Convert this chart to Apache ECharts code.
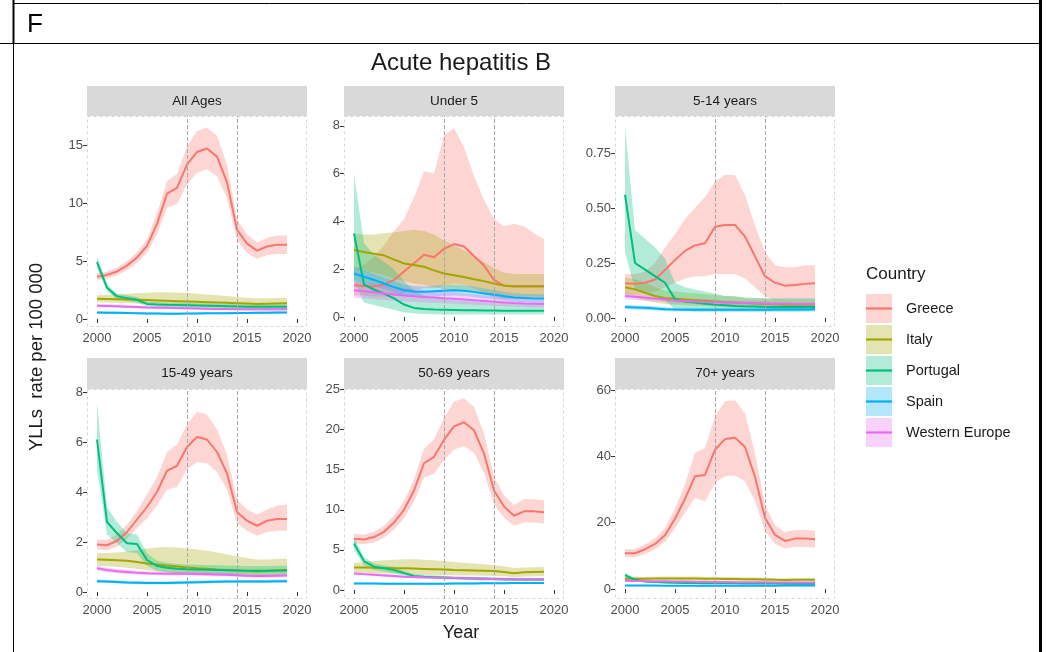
<!DOCTYPE html>
<html>
<head>
<meta charset="utf-8">
<script src="https://cdn.jsdelivr.net/npm/echarts@6/dist/echarts.min.js"></script>
<style>
html, body { margin: 0; padding: 0; background: #fff; }
#chart { width: 1046px; height: 652px; }
</style>
</head>
<body>
<div id="chart"></div>
<script>
var years = [2000,2001,2002,2003,2004,2005,2006,2007,2008,2009,2010,2011,2012,2013,2014,2015,2016,2017,2018,2019];
var countries = ['Greece', 'Italy', 'Portugal', 'Spain', 'Western Europe'];
var panelTitles = ['All Ages', 'Under 5', '5-14 years', '15-49 years', '50-69 years', '70+ years'];
var xTicks = [2000, 2005, 2010, 2015, 2020];
var yTicks = [[0,5,10,15], [0,2,4,6,8], [0,0.25,0.5,0.75], [0,2,4,6,8], [0,5,10,15,20,25], [0,20,40,60]];
var yMin = [-0.69, -0.42, -0.041, -0.28, -1.12, -3.0];
var yMax = [17.5, 8.41, 0.918, 8.12, 25.05, 60.3];
var markYears = [2009, 2014];

// All Ages
var aaGreece   = [3.65,3.8,4.1,4.6,5.3,6.3,8.2,10.8,11.3,13.3,14.4,14.7,14.0,11.8,7.7,6.5,5.9,6.25,6.4,6.4];
var aaGreeceLo = [3.35,3.5,3.75,4.2,4.85,5.7,7.3,9.6,9.9,11.6,12.6,12.9,12.3,10.4,6.8,5.7,5.2,5.5,5.6,5.6];
var aaGreeceHi = [3.95,4.1,4.45,5.0,5.75,6.9,9.1,11.9,12.5,14.9,16.2,16.5,15.8,13.3,8.6,7.3,6.6,7.0,7.2,7.2];
var aaItaly    = [1.75,1.73,1.71,1.69,1.66,1.63,1.6,1.57,1.54,1.51,1.48,1.45,1.42,1.39,1.36,1.33,1.3,1.32,1.34,1.35];
var aaItalyLo  = [1.45,1.43,1.4,1.37,1.33,1.29,1.25,1.22,1.19,1.16,1.13,1.1,1.07,1.05,1.03,1.01,0.99,1.0,1.02,1.03];
var aaItalyHi  = [2.05,2.08,2.12,2.17,2.22,2.27,2.3,2.3,2.28,2.24,2.18,2.12,2.05,1.98,1.9,1.84,1.78,1.78,1.8,1.8];
var aaPortugal   = [4.9,2.7,1.95,1.8,1.65,1.3,1.25,1.22,1.2,1.18,1.16,1.14,1.12,1.1,1.08,1.06,1.05,1.05,1.06,1.06];
var aaPortugalLo = [4.4,2.4,1.7,1.55,1.4,1.1,1.05,1.02,1.0,0.98,0.96,0.94,0.92,0.9,0.88,0.87,0.86,0.86,0.87,0.87];
var aaPortugalHi = [5.4,3.0,2.2,2.05,1.9,1.5,1.45,1.42,1.4,1.38,1.36,1.34,1.32,1.3,1.28,1.26,1.24,1.24,1.25,1.25];
var aaSpain   = [0.55,0.54,0.53,0.52,0.5,0.48,0.47,0.46,0.46,0.47,0.48,0.49,0.5,0.5,0.51,0.52,0.53,0.54,0.55,0.56];
var aaSpainLo = [0.45,0.44,0.43,0.42,0.4,0.39,0.38,0.37,0.37,0.38,0.39,0.4,0.4,0.41,0.41,0.42,0.43,0.44,0.44,0.45];
var aaSpainHi = [0.66,0.65,0.64,0.63,0.61,0.58,0.57,0.56,0.56,0.57,0.58,0.59,0.6,0.6,0.62,0.63,0.64,0.65,0.66,0.67];
var aaWEurope   = [1.15,1.12,1.09,1.06,1.03,1.0,0.98,0.96,0.94,0.92,0.9,0.88,0.87,0.86,0.85,0.84,0.83,0.83,0.83,0.84];
var aaWEuropeLo = [1.02,0.99,0.96,0.94,0.91,0.89,0.87,0.85,0.83,0.81,0.79,0.78,0.77,0.76,0.75,0.74,0.73,0.73,0.73,0.74];
var aaWEuropeHi = [1.3,1.27,1.24,1.2,1.17,1.13,1.11,1.09,1.07,1.05,1.03,1.01,0.99,0.98,0.97,0.96,0.95,0.95,0.95,0.96];

// Under 5
var u5Greece   = [1.33,1.3,1.28,1.35,1.55,1.9,2.25,2.6,2.5,2.85,3.05,2.95,2.55,2.15,1.55,1.3,1.3,1.3,1.3,1.3];
var u5GreeceLo = [0.9,0.9,0.85,0.85,0.9,1.0,1.1,1.2,1.2,1.3,1.4,1.35,1.2,1.0,0.8,0.75,0.75,0.75,0.75,0.75];
var u5GreeceHi = [2.0,2.2,2.5,3.0,3.6,4.1,5.0,6.1,6.0,7.6,7.9,7.1,5.9,4.9,4.1,3.8,3.9,3.8,3.5,3.25];
var u5Italy    = [2.8,2.72,2.65,2.58,2.4,2.24,2.17,2.1,1.95,1.82,1.75,1.67,1.58,1.5,1.4,1.32,1.27,1.27,1.27,1.27];
var u5ItalyLo  = [2.0,1.95,1.85,1.75,1.6,1.5,1.4,1.35,1.25,1.15,1.1,1.05,1.0,0.95,0.9,0.88,0.85,0.85,0.85,0.85];
var u5ItalyHi  = [3.5,3.45,3.45,3.5,3.55,3.6,3.65,3.6,3.45,3.2,3.0,2.8,2.55,2.3,2.05,1.85,1.8,1.8,1.8,1.8];
var u5Portugal   = [3.5,1.35,1.15,0.98,0.78,0.52,0.38,0.33,0.31,0.3,0.29,0.28,0.28,0.27,0.27,0.26,0.26,0.26,0.26,0.26];
var u5PortugalLo = [1.5,0.6,0.5,0.4,0.3,0.2,0.15,0.12,0.11,0.1,0.1,0.1,0.1,0.1,0.1,0.1,0.1,0.1,0.1,0.1];
var u5PortugalHi = [6.0,3.1,2.6,2.3,2.0,1.5,1.1,0.9,0.8,0.75,0.7,0.68,0.65,0.62,0.6,0.58,0.56,0.55,0.55,0.55];
var u5Spain   = [1.82,1.68,1.55,1.4,1.25,1.12,1.07,1.05,1.08,1.1,1.12,1.1,1.05,0.98,0.93,0.87,0.81,0.79,0.77,0.77];
var u5SpainLo = [1.55,1.42,1.3,1.16,1.02,0.9,0.85,0.83,0.86,0.88,0.9,0.88,0.84,0.78,0.74,0.69,0.64,0.62,0.6,0.6];
var u5SpainHi = [2.1,1.95,1.8,1.65,1.5,1.35,1.3,1.28,1.31,1.33,1.35,1.33,1.27,1.19,1.13,1.06,0.99,0.97,0.95,0.95];
var u5WEurope   = [1.12,1.08,1.03,0.98,0.94,0.9,0.87,0.84,0.81,0.78,0.76,0.73,0.7,0.67,0.64,0.61,0.58,0.56,0.55,0.54];
var u5WEuropeLo = [0.8,0.77,0.74,0.71,0.68,0.65,0.63,0.61,0.59,0.57,0.55,0.53,0.51,0.49,0.47,0.45,0.43,0.41,0.4,0.4];
var u5WEuropeHi = [1.5,1.45,1.4,1.33,1.27,1.21,1.17,1.13,1.09,1.05,1.02,0.98,0.94,0.9,0.86,0.82,0.78,0.75,0.73,0.72];

// 5-14 years
var y514Greece   = [0.158,0.155,0.16,0.175,0.218,0.264,0.305,0.33,0.34,0.415,0.423,0.423,0.37,0.28,0.19,0.16,0.147,0.15,0.155,0.158];
var y514GreeceLo = [0.11,0.11,0.11,0.12,0.14,0.16,0.18,0.19,0.19,0.2,0.2,0.2,0.18,0.14,0.1,0.08,0.08,0.08,0.08,0.08];
var y514GreeceHi = [0.2,0.2,0.21,0.25,0.32,0.38,0.45,0.5,0.55,0.62,0.65,0.65,0.56,0.42,0.3,0.24,0.23,0.23,0.24,0.24];
var y514Italy    = [0.14,0.13,0.115,0.1,0.09,0.087,0.084,0.081,0.078,0.075,0.072,0.07,0.068,0.066,0.064,0.062,0.06,0.06,0.06,0.06];
var y514ItalyLo  = [0.1,0.092,0.08,0.07,0.063,0.06,0.058,0.056,0.054,0.052,0.05,0.048,0.047,0.046,0.044,0.043,0.042,0.042,0.042,0.042];
var y514ItalyHi  = [0.185,0.175,0.16,0.14,0.125,0.12,0.116,0.112,0.108,0.104,0.1,0.097,0.094,0.091,0.088,0.085,0.083,0.083,0.083,0.083];
var y514Portugal   = [0.56,0.25,0.22,0.19,0.16,0.085,0.075,0.07,0.065,0.06,0.058,0.055,0.053,0.052,0.05,0.05,0.05,0.05,0.05,0.05];
var y514PortugalLo = [0.3,0.13,0.12,0.1,0.08,0.04,0.035,0.03,0.03,0.03,0.03,0.03,0.03,0.03,0.03,0.03,0.03,0.03,0.03,0.03];
var y514PortugalHi = [0.87,0.4,0.36,0.32,0.27,0.16,0.14,0.13,0.12,0.11,0.1,0.1,0.09,0.09,0.09,0.09,0.09,0.09,0.09,0.09];
var y514Spain   = [0.05,0.048,0.046,0.043,0.04,0.038,0.037,0.037,0.037,0.037,0.037,0.037,0.037,0.037,0.037,0.038,0.038,0.038,0.039,0.04];
var y514SpainLo = [0.04,0.038,0.036,0.034,0.031,0.03,0.029,0.029,0.029,0.029,0.029,0.029,0.029,0.029,0.029,0.03,0.03,0.03,0.031,0.032];
var y514SpainHi = [0.06,0.058,0.056,0.053,0.05,0.047,0.046,0.046,0.046,0.046,0.046,0.046,0.046,0.046,0.046,0.047,0.047,0.047,0.048,0.049];
var y514WEurope   = [0.1,0.096,0.092,0.088,0.084,0.08,0.077,0.075,0.073,0.071,0.07,0.069,0.068,0.067,0.066,0.065,0.065,0.064,0.064,0.064];
var y514WEuropeLo = [0.085,0.082,0.078,0.075,0.071,0.068,0.066,0.064,0.062,0.06,0.059,0.058,0.058,0.057,0.056,0.055,0.055,0.054,0.054,0.054];
var y514WEuropeHi = [0.116,0.111,0.107,0.102,0.097,0.093,0.089,0.087,0.085,0.083,0.081,0.08,0.079,0.078,0.077,0.076,0.075,0.075,0.075,0.075];

// 15-49 years
var y1549Greece   = [1.9,1.87,2.05,2.4,2.9,3.4,4.0,4.85,5.05,5.8,6.2,6.1,5.6,4.75,3.2,2.85,2.65,2.85,2.92,2.92];
var y1549GreeceLo = [1.7,1.67,1.82,2.12,2.55,2.95,3.45,4.1,4.2,4.9,5.2,5.15,4.8,4.1,2.75,2.45,2.25,2.4,2.45,2.45];
var y1549GreeceHi = [2.1,2.08,2.3,2.7,3.25,3.9,4.6,5.6,5.9,6.7,7.2,7.1,6.5,5.5,3.7,3.3,3.1,3.3,3.45,3.5];
var y1549Italy    = [1.3,1.29,1.27,1.25,1.2,1.14,1.1,1.06,1.02,0.98,0.95,0.93,0.9,0.88,0.86,0.84,0.82,0.84,0.86,0.88];
var y1549ItalyLo  = [1.05,1.03,1.0,0.97,0.92,0.87,0.83,0.79,0.76,0.73,0.71,0.69,0.67,0.65,0.64,0.63,0.62,0.63,0.65,0.66];
var y1549ItalyHi  = [1.55,1.56,1.58,1.62,1.68,1.74,1.78,1.8,1.78,1.74,1.7,1.65,1.58,1.5,1.42,1.36,1.3,1.3,1.32,1.34];
var y1549Portugal   = [6.1,2.8,2.35,1.95,1.92,1.28,1.04,0.97,0.93,0.91,0.9,0.89,0.88,0.87,0.86,0.85,0.85,0.85,0.86,0.86];
var y1549PortugalLo = [4.9,2.3,1.95,1.6,1.55,1.05,0.85,0.79,0.76,0.74,0.73,0.72,0.71,0.7,0.7,0.69,0.69,0.69,0.7,0.7];
var y1549PortugalHi = [7.6,3.4,2.8,2.35,2.3,1.55,1.25,1.17,1.12,1.1,1.09,1.08,1.07,1.06,1.05,1.04,1.04,1.04,1.05,1.05];
var y1549Spain   = [0.43,0.42,0.4,0.38,0.37,0.36,0.36,0.36,0.37,0.38,0.39,0.4,0.41,0.42,0.42,0.42,0.42,0.42,0.43,0.43];
var y1549SpainLo = [0.37,0.36,0.34,0.32,0.31,0.3,0.3,0.3,0.31,0.32,0.33,0.34,0.35,0.36,0.36,0.36,0.36,0.36,0.37,0.37];
var y1549SpainHi = [0.5,0.49,0.47,0.45,0.44,0.43,0.43,0.43,0.44,0.45,0.46,0.47,0.48,0.49,0.49,0.49,0.49,0.49,0.5,0.5];
var y1549WEurope   = [0.95,0.88,0.83,0.8,0.77,0.75,0.74,0.73,0.73,0.73,0.72,0.71,0.7,0.69,0.67,0.65,0.64,0.64,0.65,0.66];
var y1549WEuropeLo = [0.86,0.8,0.75,0.72,0.7,0.68,0.67,0.66,0.66,0.66,0.65,0.64,0.63,0.62,0.6,0.58,0.57,0.57,0.58,0.59];
var y1549WEuropeHi = [1.05,0.97,0.92,0.89,0.85,0.83,0.82,0.81,0.81,0.81,0.8,0.79,0.78,0.77,0.75,0.73,0.72,0.72,0.73,0.74];

// 50-69 years
var y5069Greece   = [6.4,6.3,6.6,7.25,8.4,10.0,12.4,15.8,16.6,18.7,20.4,20.9,19.9,17.0,12.4,10.4,9.25,9.8,9.8,9.7];
var y5069GreeceLo = [5.8,5.7,5.9,6.5,7.5,8.9,11.0,14.0,14.5,16.2,17.5,17.9,17.1,14.6,10.7,9.0,8.0,8.4,8.4,8.3];
var y5069GreeceHi = [7.0,6.9,7.3,8.0,9.3,11.1,13.8,17.6,18.8,21.4,23.5,23.9,22.8,19.5,14.1,11.8,10.6,11.3,11.3,11.2];
var y5069Italy    = [2.8,2.79,2.77,2.75,2.72,2.7,2.67,2.63,2.59,2.55,2.5,2.47,2.44,2.41,2.37,2.25,2.1,2.2,2.25,2.28];
var y5069ItalyLo  = [2.2,2.15,2.1,2.05,2.0,1.95,1.92,1.9,1.88,1.86,1.84,1.82,1.8,1.78,1.76,1.7,1.6,1.66,1.7,1.72];
var y5069ItalyHi  = [3.4,3.5,3.6,3.7,3.78,3.82,3.82,3.78,3.7,3.6,3.5,3.4,3.3,3.2,3.1,2.95,2.75,2.8,2.85,2.88];
var y5069Portugal   = [5.8,3.6,2.9,2.7,2.5,2.1,1.75,1.65,1.6,1.55,1.5,1.47,1.44,1.41,1.38,1.35,1.33,1.32,1.32,1.32];
var y5069PortugalLo = [5.0,3.1,2.5,2.3,2.1,1.8,1.5,1.4,1.36,1.32,1.28,1.25,1.22,1.2,1.17,1.15,1.13,1.12,1.12,1.12];
var y5069PortugalHi = [6.6,4.1,3.3,3.1,2.9,2.4,2.0,1.9,1.84,1.78,1.72,1.69,1.66,1.62,1.59,1.55,1.53,1.52,1.52,1.52];
var y5069Spain   = [0.82,0.81,0.8,0.79,0.78,0.77,0.77,0.77,0.78,0.79,0.8,0.81,0.82,0.83,0.84,0.85,0.86,0.87,0.88,0.88];
var y5069SpainLo = [0.7,0.69,0.68,0.67,0.66,0.65,0.65,0.65,0.66,0.67,0.68,0.69,0.7,0.71,0.72,0.73,0.74,0.75,0.76,0.76];
var y5069SpainHi = [0.95,0.94,0.93,0.92,0.91,0.9,0.9,0.9,0.91,0.92,0.93,0.94,0.95,0.96,0.97,0.98,0.99,1.0,1.01,1.01];
var y5069WEurope   = [2.07,1.98,1.9,1.82,1.74,1.66,1.62,1.58,1.55,1.52,1.5,1.47,1.44,1.41,1.38,1.35,1.32,1.3,1.3,1.3];
var y5069WEuropeLo = [1.9,1.82,1.75,1.67,1.6,1.52,1.48,1.45,1.42,1.39,1.37,1.34,1.31,1.29,1.26,1.23,1.2,1.18,1.18,1.18];
var y5069WEuropeHi = [2.25,2.15,2.06,1.98,1.89,1.8,1.76,1.72,1.69,1.66,1.63,1.6,1.57,1.54,1.5,1.47,1.44,1.42,1.42,1.42];

// 70+ years
var y70Greece   = [10.8,10.8,12.0,13.6,16.2,21.2,27.2,34.0,34.4,42.0,45.2,45.6,42.8,33.8,21.5,16.3,14.5,15.2,15.2,15.0];
var y70GreeceLo = [9.6,9.6,10.6,12.0,14.2,18.3,23.0,27.5,26.5,32.0,34.0,34.2,32.5,26.5,17.6,13.6,12.2,12.7,12.7,12.5];
var y70GreeceHi = [12.0,12.1,13.4,15.3,18.3,24.3,31.7,41.0,42.5,52.0,56.6,56.9,53.0,41.0,25.5,19.2,17.1,17.8,17.8,17.6];
var y70Italy    = [3.1,3.12,3.14,3.15,3.16,3.17,3.16,3.15,3.12,3.09,3.06,3.02,2.98,2.94,2.9,2.82,2.75,2.78,2.8,2.82];
var y70ItalyLo  = [2.6,2.6,2.61,2.62,2.62,2.62,2.61,2.6,2.58,2.56,2.54,2.51,2.48,2.45,2.42,2.36,2.3,2.32,2.34,2.36];
var y70ItalyHi  = [3.65,3.68,3.71,3.73,3.75,3.77,3.76,3.75,3.71,3.67,3.63,3.58,3.53,3.48,3.43,3.33,3.25,3.28,3.31,3.33];
var y70Portugal   = [4.2,2.8,2.3,2.1,2.0,1.9,1.85,1.8,1.78,1.76,1.74,1.72,1.7,1.68,1.66,1.64,1.62,1.6,1.6,1.6];
var y70PortugalLo = [3.5,2.4,2.0,1.8,1.72,1.64,1.6,1.56,1.54,1.52,1.5,1.48,1.47,1.45,1.43,1.41,1.4,1.38,1.38,1.38];
var y70PortugalHi = [5.0,3.2,2.65,2.42,2.3,2.18,2.12,2.06,2.04,2.02,2.0,1.98,1.96,1.93,1.91,1.89,1.86,1.84,1.84,1.84];
var y70Spain   = [1.1,1.08,1.06,1.04,1.02,1.0,0.99,0.98,0.98,0.98,0.98,0.99,1.0,1.01,1.02,1.03,1.04,1.05,1.06,1.07];
var y70SpainLo = [0.9,0.88,0.87,0.85,0.84,0.82,0.81,0.8,0.8,0.8,0.8,0.81,0.82,0.83,0.84,0.85,0.86,0.86,0.87,0.88];
var y70SpainHi = [1.3,1.28,1.26,1.24,1.21,1.19,1.18,1.17,1.17,1.17,1.17,1.18,1.19,1.2,1.21,1.22,1.23,1.25,1.26,1.27];
var y70WEurope   = [2.5,2.45,2.4,2.36,2.32,2.28,2.24,2.2,2.17,2.14,2.11,2.08,2.06,2.04,2.02,2.0,1.98,1.97,1.96,1.96];
var y70WEuropeLo = [2.25,2.2,2.16,2.12,2.08,2.05,2.01,1.98,1.95,1.92,1.9,1.87,1.85,1.83,1.81,1.8,1.78,1.77,1.76,1.76];
var y70WEuropeHi = [2.75,2.7,2.64,2.6,2.56,2.51,2.47,2.42,2.39,2.36,2.32,2.29,2.27,2.25,2.23,2.2,2.18,2.17,2.16,2.16];

var panelData = [
    [[aaGreece, aaGreeceLo, aaGreeceHi], [aaItaly, aaItalyLo, aaItalyHi], [aaPortugal, aaPortugalLo, aaPortugalHi], [aaSpain, aaSpainLo, aaSpainHi], [aaWEurope, aaWEuropeLo, aaWEuropeHi]],
    [[u5Greece, u5GreeceLo, u5GreeceHi], [u5Italy, u5ItalyLo, u5ItalyHi], [u5Portugal, u5PortugalLo, u5PortugalHi], [u5Spain, u5SpainLo, u5SpainHi], [u5WEurope, u5WEuropeLo, u5WEuropeHi]],
    [[y514Greece, y514GreeceLo, y514GreeceHi], [y514Italy, y514ItalyLo, y514ItalyHi], [y514Portugal, y514PortugalLo, y514PortugalHi], [y514Spain, y514SpainLo, y514SpainHi], [y514WEurope, y514WEuropeLo, y514WEuropeHi]],
    [[y1549Greece, y1549GreeceLo, y1549GreeceHi], [y1549Italy, y1549ItalyLo, y1549ItalyHi], [y1549Portugal, y1549PortugalLo, y1549PortugalHi], [y1549Spain, y1549SpainLo, y1549SpainHi], [y1549WEurope, y1549WEuropeLo, y1549WEuropeHi]],
    [[y5069Greece, y5069GreeceLo, y5069GreeceHi], [y5069Italy, y5069ItalyLo, y5069ItalyHi], [y5069Portugal, y5069PortugalLo, y5069PortugalHi], [y5069Spain, y5069SpainLo, y5069SpainHi], [y5069WEurope, y5069WEuropeLo, y5069WEuropeHi]],
    [[y70Greece, y70GreeceLo, y70GreeceHi], [y70Italy, y70ItalyLo, y70ItalyHi], [y70Portugal, y70PortugalLo, y70PortugalHi], [y70Spain, y70SpainLo, y70SpainHi], [y70WEurope, y70WEuropeLo, y70WEuropeHi]]
];

var lineColors = ['#F8766D', '#A3A500', '#00BF7D', '#00B0F6', '#E76BF3'];
var bandColors = ['rgba(248,118,109,0.3)', 'rgba(163,165,0,0.3)', 'rgba(0,191,125,0.3)', 'rgba(0,176,246,0.3)', 'rgba(231,107,243,0.3)'];
var font = '"Liberation Sans", Arial, sans-serif';

// facet layout
var colLeft = [87, 344, 615];
var rowTop = [116, 389];
var rowHeight = [211, 210];
var stripHeight = [30, 31];
var panelW = 220;

function pairs(vals) {
    return years.map(function (y, i) { return [y, vals[i]]; });
}

// ribbon drawn as one polygon through the axis scales
function ribbon(p, ci, lo, hi) {
    return {
        type: 'custom', xAxisIndex: p, yAxisIndex: p, silent: true, z: 1, clip: true,
        data: years.map(function (y, i) { return [y, lo[i], hi[i]]; }),
        encode: { x: 0, y: [1, 2] },
        renderItem: function (params, api) {
            if (params.dataIndex !== 0) return null;
            var pts = [];
            for (var i = 0; i < years.length; i++) pts.push(api.coord([years[i], hi[i]]));
            for (var j = years.length - 1; j >= 0; j--) pts.push(api.coord([years[j], lo[j]]));
            return { type: 'polygon', shape: { points: pts }, style: { fill: bandColors[ci] } };
        }
    };
}

var grids = [], xAxes = [], yAxes = [], bandSeries = [], lineSeries = [], graphics = [];

panelTitles.forEach(function (title, p) {
    var r = Math.floor(p / 3), c = p % 3;
    var left = colLeft[c], top = rowTop[r], h = rowHeight[r], sh = stripHeight[r];
    grids.push({ left: left, top: top, width: panelW, height: h });
    xAxes.push({
        type: 'value', gridIndex: p, min: 1999, max: 2021,
        axisLine: { show: false }, splitLine: { show: false },
        axisTick: { show: true, length: 4, customValues: xTicks, lineStyle: { color: '#333333' } },
        axisLabel: {
            customValues: xTicks, color: '#4d4d4d', fontSize: 13, margin: 5, fontFamily: font,
            formatter: function (v) { return String(v); }
        }
    });
    yAxes.push({
        type: 'value', gridIndex: p, min: yMin[p], max: yMax[p],
        axisLine: { show: false }, splitLine: { show: false },
        axisTick: { show: true, length: 4, customValues: yTicks[p], lineStyle: { color: '#333333' } },
        axisLabel: {
            customValues: yTicks[p], color: '#4d4d4d', fontSize: 13, margin: 4, fontFamily: font,
            formatter: p === 2 ? function (v) { return v.toFixed(2); } : function (v) { return String(v); }
        }
    });
    // dashed panel border
    graphics.push({
        type: 'rect', silent: true, z: 0,
        shape: { x: left + 0.5, y: top + 0.5, width: panelW - 1, height: h - 1 },
        style: { fill: 'transparent', stroke: '#d4d4d4', lineWidth: 1, lineDash: [3, 3] }
    });
    // strip
    graphics.push({
        type: 'rect', silent: true,
        shape: { x: left, y: top - sh, width: panelW, height: sh },
        style: { fill: '#d9d9d9' }
    });
    graphics.push({
        type: 'text', silent: true, x: left + panelW / 2, y: top - sh / 2,
        style: { text: title, fill: '#1a1a1a', fontSize: 13.5, fontFamily: font, align: 'center', verticalAlign: 'middle', textAlign: 'center', textVerticalAlign: 'middle' }
    });

    // reference years 2009 / 2014
    bandSeries.push({
        type: 'line', xAxisIndex: p, yAxisIndex: p, data: pairs(panelData[p][0][0]),
        symbol: 'none', silent: true, z: 2, lineStyle: { width: 0, opacity: 0 },
        markLine: {
            silent: true, symbol: ['none', 'none'], label: { show: false },
            lineStyle: { type: 'dashed', color: '#a8a8a8', width: 1, opacity: 1 },
            data: markYears.map(function (y) { return { xAxis: y }; })
        }
    });

    panelData[p].forEach(function (d, ci) {
        bandSeries.push(ribbon(p, ci, d[1], d[2]));
        lineSeries.push({
            type: 'line', name: countries[ci], xAxisIndex: p, yAxisIndex: p, data: pairs(d[0]),
            symbol: 'none', showSymbol: false, silent: true, z: 3,
            lineStyle: { color: lineColors[ci], width: 2 }, itemStyle: { color: lineColors[ci] }
        });
    });
});

// table frame around the figure and header cell
graphics.push(
    { type: 'line', silent: true, shape: { x1: 13, y1: 3.5, x2: 1040, y2: 3.5 }, style: { stroke: '#000', lineWidth: 1 } },
    { type: 'line', silent: true, shape: { x1: 0, y1: 43.5, x2: 1040, y2: 43.5 }, style: { stroke: '#000', lineWidth: 1 } },
    { type: 'line', silent: true, shape: { x1: 13.5, y1: 0, x2: 13.5, y2: 652 }, style: { stroke: '#000', lineWidth: 1 } },
    { type: 'line', silent: true, shape: { x1: 13.5, y1: 0, x2: 13.5, y2: 44 }, style: { stroke: '#000', lineWidth: 2 } },
    { type: 'line', silent: true, shape: { x1: 1040.5, y1: 0, x2: 1040.5, y2: 652 }, style: { stroke: '#000', lineWidth: 3 } },
    { type: 'text', silent: true, x: 27, y: 25, style: { text: 'F', fill: '#000', fontSize: 26, fontFamily: '"Liberation Sans Narrow", "Liberation Sans", sans-serif', align: 'left', verticalAlign: 'middle', textAlign: 'left', textVerticalAlign: 'middle' } },
    { type: 'text', silent: true, x: 461, y: 63, style: { text: 'Acute hepatitis B', fill: '#1a1a1a', fontSize: 24, fontFamily: font, align: 'center', verticalAlign: 'middle', textAlign: 'center', textVerticalAlign: 'middle' } },
    { type: 'text', silent: true, x: 461, y: 633, style: { text: 'Year', fill: '#1a1a1a', fontSize: 18, fontFamily: font, align: 'center', verticalAlign: 'middle', textAlign: 'center', textVerticalAlign: 'middle' } },
    { type: 'text', silent: true, x: 37, y: 357, rotation: Math.PI / 2, style: { text: 'YLLs  rate per 100 000', fill: '#1a1a1a', fontSize: 18.5, fontFamily: font, align: 'center', verticalAlign: 'middle', textAlign: 'center', textVerticalAlign: 'middle' } },
    { type: 'text', silent: true, x: 866, y: 274, style: { text: 'Country', fill: '#1a1a1a', fontSize: 17, fontFamily: font, align: 'left', verticalAlign: 'middle', textAlign: 'left', textVerticalAlign: 'middle' } }
);

var legendBase = {
    orient: 'vertical', left: 866, top: 294, itemWidth: 26, itemHeight: 29, itemGap: 2,
    selectedMode: false, padding: 0
};

var chart = echarts.init(document.getElementById('chart'), null, { renderer: 'canvas' });
chart.setOption({
    animation: false,
    backgroundColor: '#ffffff',
    textStyle: { fontFamily: font },
    grid: grids,
    xAxis: xAxes,
    yAxis: yAxes,
    legend: [
        Object.assign({}, legendBase, {
            z: 4,
            data: countries.map(function (name, i) {
                return { name: name, icon: 'rect', itemStyle: { color: bandColors[i], borderWidth: 0 } };
            }),
            textStyle: { fontSize: 14.5, color: '#1a1a1a', fontFamily: font, lineHeight: 29, padding: [0, 0, 0, 9] }
        }),
        Object.assign({}, legendBase, {
            z: 5,
            data: countries.map(function (name, i) {
                return { name: name, icon: 'path://M0,0L26,0L26,2.2L0,2.2Z', itemStyle: { color: lineColors[i], borderWidth: 0 } };
            }),
            textStyle: { fontSize: 14.5, color: 'rgba(0,0,0,0)', fontFamily: font, lineHeight: 29, padding: [0, 0, 0, 9] }
        })
    ],
    graphic: { elements: graphics },
    series: bandSeries.concat(lineSeries)
});
</script>
</body>
</html>
